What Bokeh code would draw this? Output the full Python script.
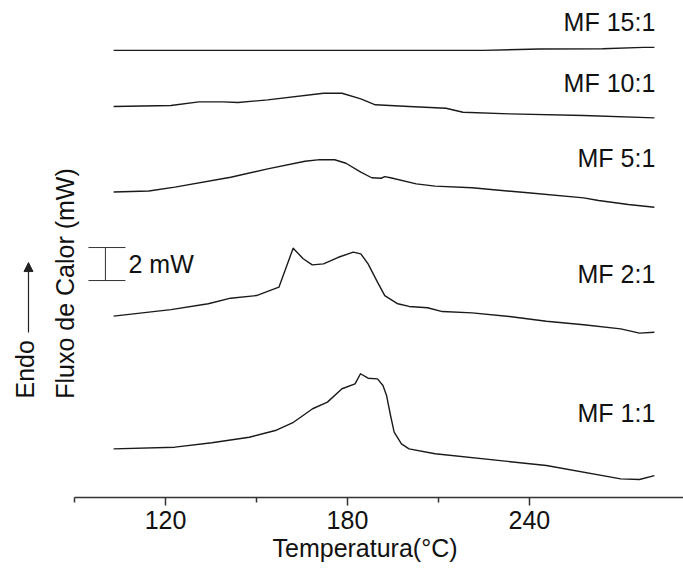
from bokeh.plotting import figure
from bokeh.models import Range1d, FixedTicker, Label, Arrow, NormalHead, Title
from bokeh.embed import file_html
from bokeh.resources import INLINE
from bokeh.core.properties import value

# ---- data (temperature in °C, heat flow in mW, curves stacked) ----
temp_15 = [102.9, 224.8, 243.3, 264.1, 277.6, 281.2]
flow_15 = [27.1, 27.1, 27.18, 27.2, 27.28, 27.28]

temp_10 = [102.9, 121.8, 131.0, 139.0, 143.9, 153.7, 172.1, 178.2, 184.4, 189.2,
           200.3, 212.5, 218.1, 233.4, 257.9, 281.2]
flow_10 = [23.70, 23.76, 23.98, 23.98, 23.94, 24.10, 24.50, 24.50, 24.16, 23.80,
           23.70, 23.59, 23.35, 23.25, 23.15, 23.01]

temp_5 = [102.9, 114.5, 123.1, 141.5, 153.7, 166.0, 170.9, 175.8, 179.5, 184.4,
          188.0, 191.1, 192.3, 194.2, 202.7, 208.9, 221.1, 239.5, 257.9, 262.8,
          272.6, 281.2]
flow_5 = [18.52, 18.58, 18.81, 19.41, 19.92, 20.38, 20.48, 20.47, 20.26, 19.72,
          19.38, 19.35, 19.45, 19.38, 19.01, 18.87, 18.77, 18.47, 18.16, 18.00,
          17.76, 17.59]

temp_2 = [102.9, 121.8, 134.1, 141.5, 150.0, 157.4, 162.1, 165.4, 168.4, 172.1,
          177.0, 181.9, 184.4, 186.8, 189.9, 192.3, 196.6, 200.3, 206.4, 211.3,
          221.1, 233.4, 245.6, 257.9, 270.1, 276.3, 281.2]
flow_2 = [10.99, 11.39, 11.74, 12.08, 12.24, 12.75, 15.11, 14.47, 14.10, 14.16,
          14.56, 14.87, 14.77, 14.16, 13.05, 12.24, 11.74, 11.58, 11.50, 11.27,
          11.19, 10.97, 10.68, 10.47, 10.22, 9.96, 10.02]

temp_1 = [102.9, 123.1, 135.3, 147.6, 156.2, 162.2, 168.5, 173.4, 178.2, 182.5,
          184.3, 186.8, 189.9, 191.7, 192.9, 194.2, 195.4, 197.8, 200.3, 208.9,
          245.6, 270.1, 276.3, 281.2]
flow_1 = [2.95, 3.05, 3.32, 3.65, 4.06, 4.56, 5.38, 5.78, 6.59, 6.89,
          7.50, 7.23, 7.19, 6.79, 6.18, 4.97, 3.96, 3.25, 2.95, 2.65,
          1.94, 1.13, 1.09, 1.33]

series_names = ["MF 15:1", "MF 10:1", "MF 5:1", "MF 2:1", "MF 1:1"]
label_levels = [28.79, 25.15, 20.55, 13.55, 5.10]

major_ticks = [120, 180, 240]
minor_ticks = [90, 150, 210]

FONT = "Liberation Sans"
FS = "25px"
INK = "#111111"
LINE = "#1a1a1a"

p = figure(width=683, height=569, output_backend="svg", toolbar_location=None,
           x_range=Range1d(65.6, 290.8), y_range=Range1d(0, 29.82),
           y_axis_location=None,
           min_border_left=0, min_border_right=0, min_border_top=5,
           min_border_bottom=72)
p.outline_line_color = None
p.grid.visible = False
p.background_fill_color = "white"
p.border_fill_color = "white"

ax = p.xaxis[0]
ax.bounds = (90, 290.8)
ax.ticker = FixedTicker(ticks=major_ticks, minor_ticks=minor_ticks)
ax.major_label_text_font = FONT
ax.major_label_text_font_size = FS
ax.major_label_text_color = INK
ax.major_tick_in = 0
ax.major_tick_out = 8
ax.minor_tick_in = 0
ax.minor_tick_out = 5
ax.axis_line_width = 1.5
ax.axis_line_color = "#333333"
ax.major_tick_line_color = "#333333"
ax.minor_tick_line_color = "#333333"
ax.major_tick_line_width = 1.5
ax.minor_tick_line_width = 1.5
ax.major_label_standoff = 5

p.add_layout(Title(text="Temperatura(°C)", align="left", offset=272,
                   text_font=FONT, text_font_size=FS, text_font_style="normal",
                   text_color=INK, standoff=0), "below")

curves = [(temp_15, flow_15), (temp_10, flow_10), (temp_5, flow_5),
          (temp_2, flow_2), (temp_1, flow_1)]
for t, f in curves:
    p.line(t, f, line_color=LINE, line_width=1.4, line_join="round")

p.text(x=[281.5] * len(series_names), y=label_levels, text=series_names,
       text_align="right", text_baseline="middle",
       text_font=value(FONT), text_font_size=FS, text_color=INK)

# 2 mW scale bar
bar_x, bar_lo, bar_hi = 100.2, 13.15, 15.15
p.segment(x0=[bar_x, 94.6, 94.6], y0=[bar_lo, bar_lo, bar_hi],
          x1=[bar_x, 106.8, 106.8], y1=[bar_hi, bar_lo, bar_hi],
          line_color="#333333", line_width=1)
p.add_layout(Label(x=107.8, y=14.18, text="2 mW", text_align="left",
                   text_baseline="middle", text_font=FONT, text_font_size=FS,
                   text_color=INK))

# vertical titles and the Endo arrow (left of the axis start)
p.add_layout(Label(x=87.0, y=12.97, text="Fluxo de Calor (mW)", angle=1.5708,
                   text_align="center", text_baseline="middle", text_font=FONT,
                   text_font_size=FS, text_color=INK))
p.add_layout(Label(x=73.84, y=6.0, text="Endo", angle=1.5708,
                   text_align="left", text_baseline="middle", text_font=FONT,
                   text_font_size=FS, text_color=INK))
p.add_layout(Arrow(x_start=74.83, y_start=10.0, x_end=74.83, y_end=14.24,
                   line_color="#222222", line_width=1.2,
                   end=NormalHead(size=9, fill_color="#222222",
                                  line_color="#222222")))

open("out.html", "w").write(file_html(p, INLINE))
